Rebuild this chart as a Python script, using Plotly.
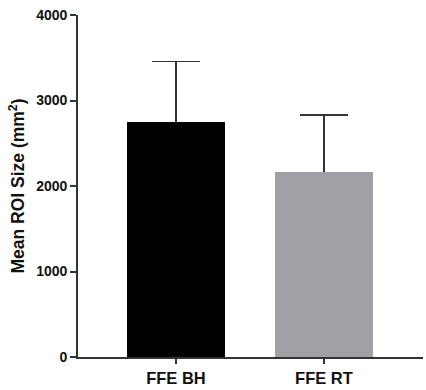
import plotly.graph_objects as go

categories = ["FFE BH", "FFE RT"]
means = [2744, 2161]
sd_upper = [710, 668]
bar_colors = ["#000000", "#A1A1A5"]
y_ticks = [0, 1000, 2000, 3000, 4000]

fig = go.Figure()
# Error bars (lower end hidden beneath the bars drawn on top)
fig.add_trace(go.Bar(
    x=categories, y=means,
    marker=dict(color=bar_colors, line=dict(width=0)),
    width=0.66,
    error_y=dict(type="data", symmetric=False, array=sd_upper, arrayminus=means,
                 color="#333333", thickness=1.6, width=24, visible=True),
    hoverinfo="skip",
))
fig.add_trace(go.Bar(
    x=categories, y=means,
    marker=dict(color=bar_colors, line=dict(width=0)),
    width=0.66,
))

fig.update_layout(
    width=426, height=390,
    margin=dict(l=78, r=3, t=15, b=29),
    paper_bgcolor="white", plot_bgcolor="white",
    showlegend=False,
    barmode="overlay",
    font=dict(family="Liberation Sans, Arial, sans-serif", color="#111111"),
    bargap=0,
)
fig.update_xaxes(
    range=[-0.662, 1.669],
    showline=True, linecolor="#333333", linewidth=1.6,
    ticks="outside", ticklen=5, tickwidth=1.6, tickcolor="#333333",
    tickfont=dict(size=16.5, color="#111111"),
    showgrid=False, zeroline=False,
    tickprefix="<b>", ticksuffix="</b>",
)
fig.update_yaxes(
    range=[0, 4000], tickvals=y_ticks,
    ticktext=[f"<b>{v}</b>" for v in y_ticks],
    showline=True, linecolor="#333333", linewidth=1.6,
    ticks="outside", ticklen=6, tickwidth=1.6, tickcolor="#333333",
    tickfont=dict(size=14, color="#111111"),
    showgrid=False, zeroline=False,
    title=dict(text="<b>Mean ROI Size (mm<sup>2</sup>)</b>", font=dict(size=17.5, color="#111111"), standoff=7),
)

fig.write_html(
    "out.html",
    config={"displayModeBar": False},
    post_script="document.body.style.margin='0';document.body.style.padding='0';document.body.style.overflow='hidden';",
)
